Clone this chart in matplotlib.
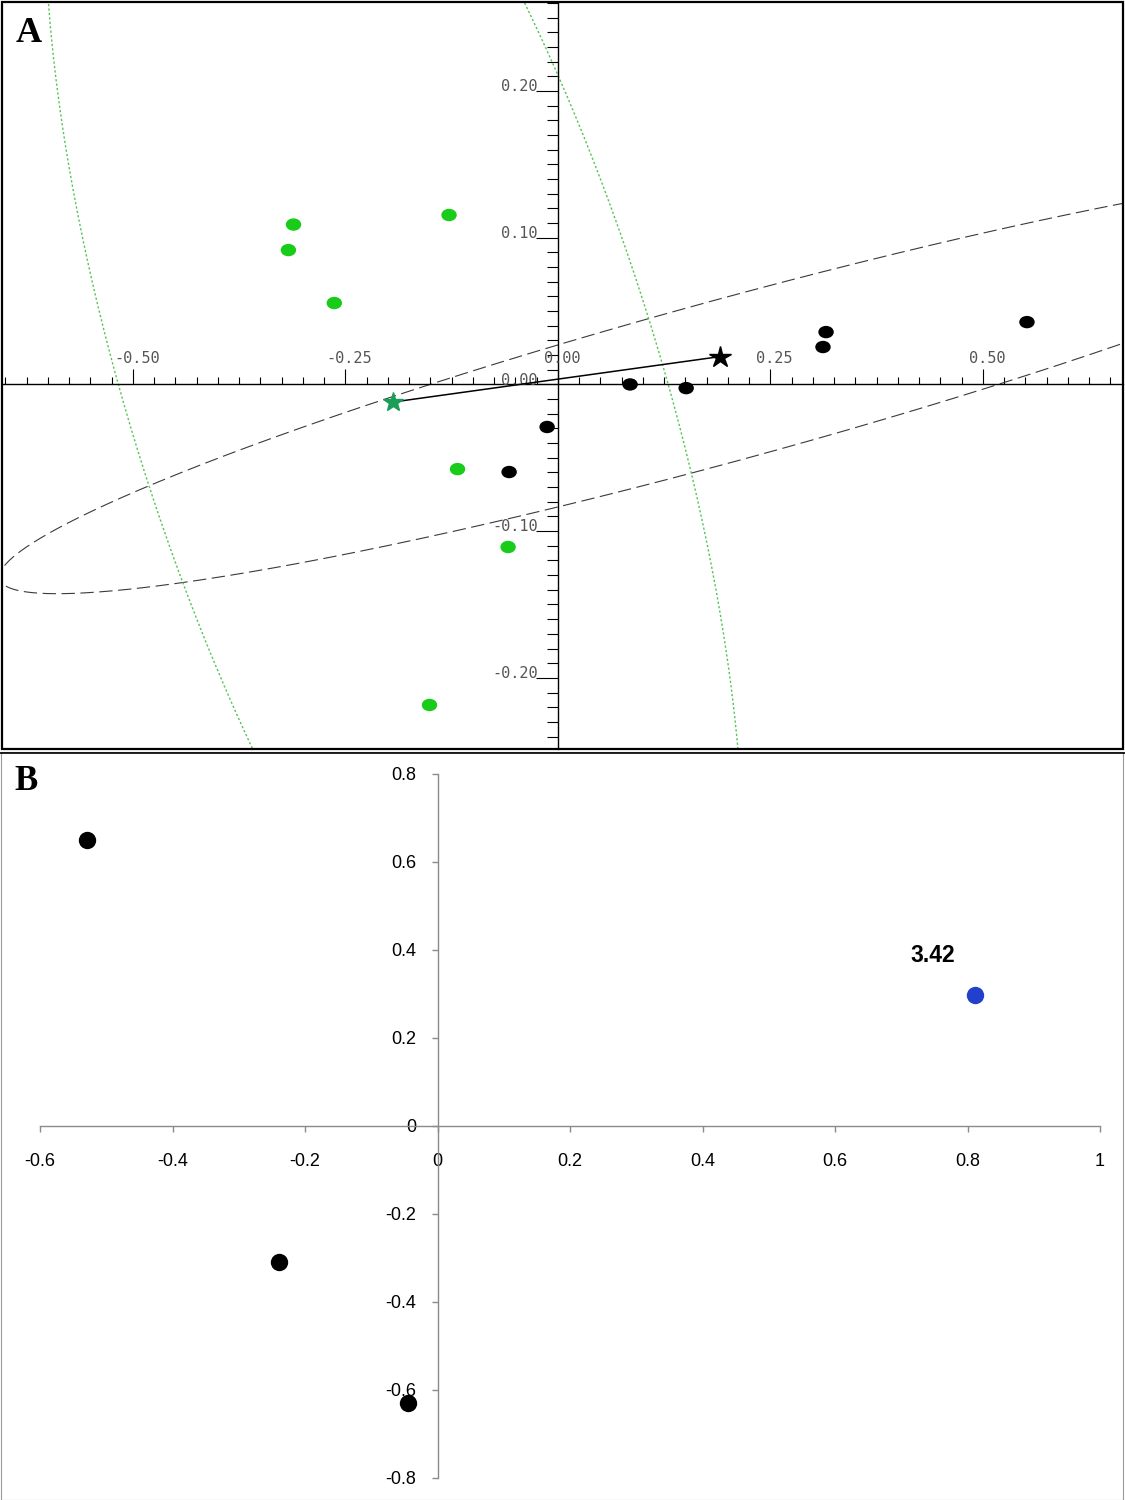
import numpy as np
import matplotlib.pyplot as plt
from matplotlib.patches import Ellipse, Rectangle
from matplotlib.lines import Line2D

# ---- panel A data ----
green_x = [-0.311, -0.317, -0.263, -0.128, -0.118, -0.0585, -0.151]
green_y = [0.109, 0.0916, 0.0555, 0.1155, -0.0577, -0.1108, -0.2185]
black_x = [0.085, 0.151, -0.0126, -0.0573, 0.3156, 0.312, 0.552]
black_y = [0.0, -0.0025, -0.029, -0.0597, 0.0357, 0.0255, 0.0425]
star_green = (-0.194, -0.012)
star_black = (0.191, 0.019)

# confidence ellipses: center, main extent, shear, half width
blk_center = (0.200, 0.003)
blk_ext = 0.857
blk_shear = 0.1341
blk_half = 0.0568
grn_center = (-0.1926, -0.0021)
grn_ext = 0.524
grn_shear = -0.2531
grn_half = 0.3235

xA_major = [-0.50, -0.25, 0.00, 0.25, 0.50]
yA_major = [-0.20, -0.10, 0.00, 0.10, 0.20]

# ---- panel B data ----
b_x = [-0.529, -0.239, -0.0445]
b_y = [0.65, -0.309, -0.63]
blue_x, blue_y = 0.811, 0.298
blue_label = '3.42'
xB_ticks = [-0.6, -0.4, -0.2, 0, 0.2, 0.4, 0.6, 0.8, 1]
xB_labels = ['-0.6', '-0.4', '-0.2', '0', '0.2', '0.4', '0.6', '0.8', '1']
yB_ticks = [-0.8, -0.6, -0.4, -0.2, 0, 0.2, 0.4, 0.6, 0.8]
yB_labels = ['-0.8', '-0.6', '-0.4', '-0.2', '0', '0.2', '0.4', '0.6', '0.8']

W, H = 1125, 1500
fig = plt.figure(figsize=(W / 100, H / 100), dpi=100)

def fbox(x0, y0, x1, y1):
    # pixel box -> figure fraction [left, bottom, width, height]
    return [x0 / W, 1 - y1 / H, (x1 - x0) / W, (y1 - y0) / H]

# ================= panel A =================
axA = fig.add_axes(fbox(2, 2, 1123, 749))
axA.set_xlim(-0.654, 0.665)
axA.set_ylim(-0.2485, 0.2607)
axA.patch.set_alpha(0)
for s in ['top', 'right']:
    axA.spines[s].set_visible(False)
axA.spines['left'].set_position(('data', 0))
axA.spines['bottom'].set_position(('data', 0))
axA.spines['left'].set_linewidth(1.0)
axA.spines['bottom'].set_linewidth(1.0)

axA.set_xticks(xA_major)
axA.set_xticks(np.arange(-0.65, 0.66, 0.025), minor=True)
axA.set_yticks(yA_major)
axA.set_yticks(np.arange(-0.24, 0.261, 0.01), minor=True)
axA.tick_params(axis='x', which='major', direction='in', length=11, width=0.8, labelbottom=False)
axA.tick_params(axis='x', which='minor', direction='in', length=5, width=0.8)
axA.tick_params(axis='y', which='major', direction='out', length=16, width=0.8, labelleft=False)
axA.tick_params(axis='y', which='minor', direction='out', length=8, width=0.8)

lab_font = dict(family='DejaVu Sans Mono', fontsize=11, color='#555555')
for v in xA_major:
    axA.annotate(f'{v:.2f}', xy=(v, 0), xytext=(3, 19), textcoords='offset points',
                 ha='center', va='center', **lab_font)
for v in yA_major:
    axA.annotate(f'{v:.2f}', xy=(0, v), xytext=(-14.5, 3), textcoords='offset points',
                 ha='right', va='center', **lab_font)

t = np.linspace(0, 2 * np.pi, 1000)
ex = blk_center[0] + blk_ext * np.cos(t)
ey = blk_center[1] + blk_shear * np.cos(t) + blk_half * np.sin(t)
axA.plot(ex, ey, color='#3a3a3a', lw=0.8, linestyle=(0, (12, 5)), clip_on=True)

gy = grn_center[1] + grn_ext * np.cos(t)
gx = grn_center[0] + grn_shear * np.cos(t) + grn_half * np.sin(t)
axA.plot(gx, gy, color='#55c455', lw=1.0, linestyle=(0, (1.6, 1.6)), clip_on=True)

for x, y in zip(green_x, green_y):
    axA.add_patch(Ellipse((x, y), 0.0165, 0.0075, color='#19cc19', zorder=4))
for x, y in zip(black_x, black_y):
    axA.add_patch(Ellipse((x, y), 0.0165, 0.0075, color='black', zorder=4))

axA.plot([star_green[0], star_black[0]], [star_green[1], star_black[1]],
         color='black', lw=1.1, zorder=5)
axA.plot(star_green[0], star_green[1], marker='*', ms=15, color='#1a9e55',
         mec='#1a9e55', zorder=6)
axA.plot(star_black[0], star_black[1], marker='*', ms=16, color='black', zorder=6)

fig.text(28.5 / W, 1 - 34 / H, 'A', family='Liberation Serif', fontweight='bold',
         fontsize=26, ha='center', va='center')

# ================= panel B =================
axB = fig.add_axes(fbox(40, 774, 1100, 1478))
axB.set_xlim(-0.6, 1)
axB.set_ylim(-0.8, 0.8)
axB.patch.set_alpha(0)
for s in ['top', 'right']:
    axB.spines[s].set_visible(False)
for s in ['left', 'bottom']:
    axB.spines[s].set_position(('data', 0))
    axB.spines[s].set_color('#8a8a8a')
    axB.spines[s].set_linewidth(1.0)
axB.set_xticks(xB_ticks)
axB.set_xticklabels(xB_labels)
axB.set_yticks(yB_ticks)
axB.set_yticklabels(yB_labels)
axB.tick_params(axis='x', direction='out', length=4.5, width=1.0, color='#8a8a8a',
                pad=15, labelsize=13)
axB.tick_params(axis='y', direction='out', length=4.5, width=1.0, color='#8a8a8a',
                pad=11, labelsize=13)
for lab in axB.get_xticklabels() + axB.get_yticklabels():
    lab.set_family('Liberation Sans')

axB.plot(b_x, b_y, 'o', ms=11.5, color='black', clip_on=False, zorder=5)
axB.plot(blue_x, blue_y, 'o', ms=11.5, color='#2340cc', clip_on=False, zorder=5)
axB.annotate(blue_label, xy=(blue_x, blue_y), xytext=(-30, 28), textcoords='offset points',
             ha='center', va='center', fontsize=16.5, fontweight='bold',
             family='Liberation Sans')

fig.text(26 / W, 1 - 781 / H, 'B', family='Liberation Serif', fontweight='bold',
         fontsize=25, ha='center', va='center')

# ---- panel frames ----
fig.patches.append(Rectangle((1 / W, 1 - 1499.5 / H), 1121.5 / W, 748 / H,
                             transform=fig.transFigure, fill=False,
                             edgecolor='#9a9a9a', lw=0.8))
fig.patches.append(Rectangle((1.5 / W, 1 - 749 / H), 1121.5 / W, 747.5 / H,
                             transform=fig.transFigure, fill=False,
                             edgecolor='black', lw=1.6))
fig.lines.append(Line2D([0, 1], [1 - 752.5 / H] * 2, transform=fig.transFigure,
                        color='black', lw=1.2))

fig.savefig('out.png', dpi=100)
